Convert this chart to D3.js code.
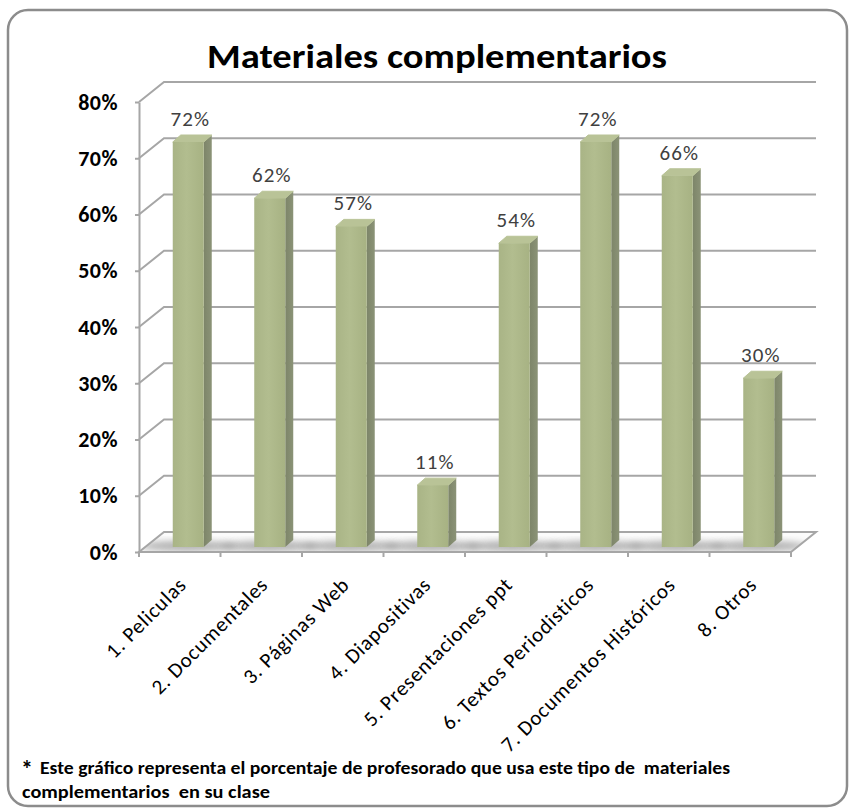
<!DOCTYPE html>
<html>
<head>
<meta charset="utf-8">
<script src="https://cdn.jsdelivr.net/npm/d3@7"></script>
<style>
  html, body { margin: 0; padding: 0; background: #fff; }
  svg { display: block; }
  text { font-family: Carlito, "Liberation Sans", Arial, sans-serif; }
</style>
</head>
<body>
<svg width="851" height="808"></svg>
<script>
// data
const categories = ['1. Peliculas', '2. Documentales', '3. Páginas Web', '4. Diapositivas',
    '5. Presentaciones ppt', '6. Textos Periodisticos', '7. Documentos Históricos', '8. Otros']
const values = [72, 62, 57, 11, 54, 72, 66, 30]
const yTicks = [0, 10, 20, 30, 40, 50, 60, 70, 80]
const title = 'Materiales complementarios'
const noteLines = ['Este gráfico representa el porcentaje de profesorado que usa este tipo de  materiales',
    'complementarios  en su clase']

const svg = d3.select('svg')
const defs = svg.append('defs')

const x = d3.scaleBand()
    .domain(categories)
    .range([139, 791])
const y = d3.scaleLinear()
    .domain([0, 80])
    .range([552, 102])

// oblique depth of the 3d box and of each bar
const depth = { x: 25, y: -20 }
const barDepth = { x: 8, y: -7 }
const barW = 31
const grid = '#a6a6a6'

// gradients
const front = defs.append('linearGradient').attr('id', 'front')
front.append('stop').attr('offset', '0%').attr('stop-color', '#a9b486')
front.append('stop').attr('offset', '45%').attr('stop-color', '#b2bd8f')
front.append('stop').attr('offset', '100%').attr('stop-color', '#a7b283')
const side = defs.append('linearGradient').attr('id', 'side')
side.append('stop').attr('offset', '0%').attr('stop-color', '#7d8569')
side.append('stop').attr('offset', '100%').attr('stop-color', '#8b9377')
defs.append('filter').attr('id', 'blur')
    .attr('x', '-50%').attr('y', '-50%').attr('width', '200%').attr('height', '200%')
    .append('feGaussianBlur').attr('stdDeviation', 3.5)

// outer frame
svg.append('rect')
    .attr('x', 8).attr('y', 10)
    .attr('width', 839).attr('height', 796)
    .attr('rx', 20)
    .attr('fill', '#fff')
    .attr('stroke', '#8c8c8c')
    .attr('stroke-width', 2.5)

const x0 = x.range()[0], x1 = x.range()[1]

// floor
const floorPts = [[x0, y(0)], [x1, y(0)], [x1 + depth.x, y(0) + depth.y], [x0 + depth.x, y(0) + depth.y]]
svg.append('clipPath').attr('id', 'floorClip')
    .append('polygon').attr('points', floorPts.join(' '))
svg.append('polygon')
    .attr('points', floorPts.join(' '))
    .attr('fill', '#fbfbfb')

// shadows on the floor
svg.append('g')
    .attr('clip-path', 'url(#floorClip)')
    .selectAll('ellipse')
    .data(categories)
    .join('ellipse')
    .attr('cx', d => x(d) + x.bandwidth() / 2 + 8)
    .attr('cy', y(0) - 6)
    .attr('rx', 48)
    .attr('ry', 5)
    .attr('fill', '#7a7a7a')
    .attr('opacity', 0.6)
    .attr('filter', 'url(#blur)')

svg.append('polygon')
    .attr('points', floorPts.join(' '))
    .attr('fill', 'none')
    .attr('stroke', grid)
    .attr('stroke-width', 2)

// gridlines: left wall diagonal + back wall line
svg.append('g')
    .selectAll('path')
    .data(yTicks.filter(d => d > 0))
    .join('path')
    .attr('d', d => `M${x0},${y(d)}L${x0 + depth.x},${y(d) + depth.y}L${x1 + depth.x},${y(d) + depth.y}`)
    .attr('fill', 'none')
    .attr('stroke', grid)
    .attr('stroke-width', 2)

// y axis
const yAxis = d3.axisLeft(y)
    .tickValues(yTicks)
    .tickFormat(d => d + '%')
    .tickSize(4)
    .tickSizeOuter(0)
    .tickPadding(17)
const ya = svg.append('g')
    .attr('transform', `translate(${x0},0)`)
    .call(yAxis)
ya.select('.domain').attr('stroke', grid).attr('stroke-width', 2)
ya.selectAll('.tick line').attr('stroke', grid).attr('stroke-width', 2)
ya.selectAll('.tick text')
    .attr('fill', '#000')
    .style('font-size', '22px')
    .style('font-weight', 'bold')
    .style('letter-spacing', '0.5px')
    .style('font-family', 'Carlito, "Liberation Sans", Arial, sans-serif')

// x axis ticks at the band edges
svg.append('g')
    .selectAll('line')
    .data(categories.map(c => x(c)).concat([x1]))
    .join('line')
    .attr('x1', d => d).attr('x2', d => d)
    .attr('y1', y(0)).attr('y2', y(0) + 5)
    .attr('stroke', grid)
    .attr('stroke-width', 2)

// bars
const bars = svg.append('g')
    .selectAll('g')
    .data(categories.map((c, i) => ({ cat: c, value: values[i] })))
    .join('g')

const bx = d => x(d.cat) + x.bandwidth() / 2 - 7
const yb = y(0) - 5
const yt = d => y(d.value) - 5

bars.append('polygon')
    .attr('points', d => [[bx(d) + barW, yt(d)], [bx(d) + barW + barDepth.x, yt(d) + barDepth.y],
        [bx(d) + barW + barDepth.x, yb + barDepth.y], [bx(d) + barW, yb]].join(' '))
    .attr('fill', 'url(#side)')
bars.append('polygon')
    .attr('points', d => [[bx(d), yt(d)], [bx(d) + barDepth.x, yt(d) + barDepth.y],
        [bx(d) + barW + barDepth.x, yt(d) + barDepth.y], [bx(d) + barW, yt(d)]].join(' '))
    .attr('fill', '#b9c397')
    .attr('stroke', '#b9c397')
    .attr('stroke-width', 1)
    .attr('stroke-linejoin', 'round')
bars.append('rect')
    .attr('x', bx)
    .attr('y', yt)
    .attr('width', barW)
    .attr('height', d => yb - yt(d))
    .attr('fill', 'url(#front)')

// value labels
bars.append('text')
    .attr('x', d => bx(d) + barW / 2 + 2)
    .attr('y', d => yt(d) - 16)
    .attr('text-anchor', 'middle')
    .attr('fill', '#404040')
    .style('font-size', '21px')
    .style('letter-spacing', '1px')
    .text(d => d.value + '%')

// category labels, rotated
svg.append('g')
    .selectAll('text')
    .data(categories)
    .join('text')
    .attr('transform', d => `translate(${x(d) + x.bandwidth() / 2 + 8},586) rotate(-45)`)
    .attr('text-anchor', 'end')
    .attr('fill', '#000')
    .style('font-size', '21px')
    .style('letter-spacing', '0.8px')
    .text(d => d)

// title
svg.append('text')
    .attr('x', 437)
    .attr('y', 68)
    .attr('text-anchor', 'middle')
    .attr('fill', '#000')
    .attr('textLength', 460)
    .attr('lengthAdjust', 'spacingAndGlyphs')
    .style('font-size', '35px')
    .style('font-weight', 'bold')
    .text(title)

// footnote
svg.append('text')
    .attr('x', 21)
    .attr('y', 777)
    .style('font-size', '24px')
    .style('font-weight', 'bold')
    .text('*')
svg.append('text')
    .attr('x', 40)
    .attr('y', 774)
    .attr('textLength', 690)
    .attr('lengthAdjust', 'spacingAndGlyphs')
    .style('font-size', '17px')
    .style('font-weight', 'bold')
    .style('white-space', 'pre')
    .text(noteLines[0])
svg.append('text')
    .attr('x', 22)
    .attr('y', 798)
    .attr('textLength', 248)
    .attr('lengthAdjust', 'spacingAndGlyphs')
    .style('font-size', '17px')
    .style('font-weight', 'bold')
    .style('white-space', 'pre')
    .text(noteLines[1])
</script>
</body>
</html>
